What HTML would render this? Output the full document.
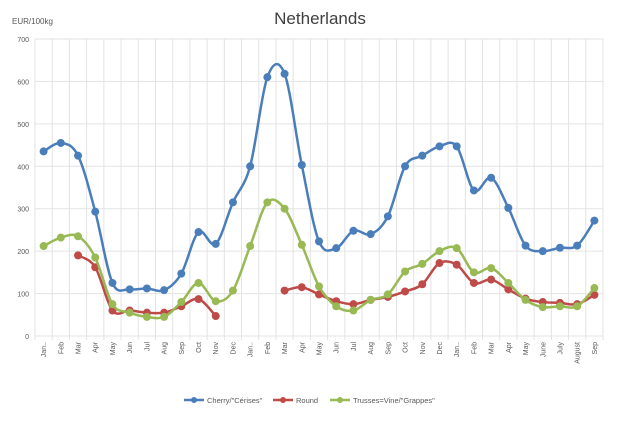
<!DOCTYPE html>
<html><head><meta charset="utf-8"><style>
body{margin:0;background:#fff;font-family:"Liberation Sans",sans-serif}
</style></head><body>
<svg id="c" width="626" height="417" xmlns="http://www.w3.org/2000/svg" style="font-family:'Liberation Sans',sans-serif">
<text x="320" y="24" font-size="17" fill="#404040" text-anchor="middle">Netherlands</text>
<text x="12" y="24" font-size="8" fill="#595959">EUR/100kg</text>
<g id="grid"></g><g id="series"></g><g id="legend"></g>
</svg>
<script>
const categories=["Jan..","Feb","Mar","Apr","May","Jun","Jul","Aug","Sep","Oct","Nov","Dec","Jan..","Feb","Mar","Apr","May","Jun","Jul","Aug","Sep","Oct","Nov","Dec","Jan..","Feb","Mar","Apr","May","June","July","August","Sep"];
const cherry=[435,455,425,293,125,110,112,108,147,245,217,315,400,610,618,403,223,207,248,240,282,400,425,447,447,343,373,302,213,200,208,213,272];
const round=[null,null,190,162,60,60,55,55,70,87,47,null,null,null,107,115,98,82,75,85,92,105,122,172,168,125,133,110,88,80,78,75,97];
const trusses=[212,232,235,185,75,55,45,45,80,125,82,107,212,315,300,215,117,70,60,85,98,152,170,200,207,150,160,125,85,68,70,70,113];
const yTicks=[0,100,200,300,400,500,600,700];
const seriesNames=['Cherry/"Cérises"',"Round",'Trusses=Vine/"Grappes"'];
const colors=["#4a7ebb","#be4b48","#98b954"];
const L=35,R=603,T=39,B=336,yMax=700;
const cw=(R-L)/categories.length;
const X=i=>L+cw*(i+0.5);
const Y=v=>B-(v/yMax)*(B-T);
const NS="http://www.w3.org/2000/svg";
function mk(t,a,p){const e=document.createElementNS(NS,t);for(const k in a)e.setAttribute(k,a[k]);p.appendChild(e);return e;}
const g=document.getElementById("grid");
yTicks.forEach(v=>{
 const l=mk("line",{x1:L,x2:R,y1:Y(v),y2:Y(v),stroke:"#e3e3e3","stroke-width":1},g);
 
 
 const t=mk("text",{x:L-6,y:Y(v)+3,"font-size":7,fill:"#595959","text-anchor":"end"},g);t.textContent=v;
 
 
});
for(let i=0;i<=categories.length;i++){
 const l=mk("line",{x1:L+cw*i,x2:L+cw*i,y1:T,y2:B+4,stroke:"#e3e3e3","stroke-width":1},g);
 
 
}
categories.forEach((c,i)=>{
 const t=mk("text",{x:0,y:0,"font-size":7,fill:"#595959","text-anchor":"end",transform:`translate(${X(i)+2.5},${B+6}) rotate(-90)`},g);
 t.textContent=c;
 
 
});
function smooth(pts){
 let d=`M${pts[0][0]},${pts[0][1]}`;
 for(let i=0;i<pts.length-1;i++){
  const p0=pts[i-1]||pts[i],p1=pts[i],p2=pts[i+1],p3=pts[i+2]||p2,k=6;
  d+=` C${p1[0]+(p2[0]-p0[0])/k},${p1[1]+(p2[1]-p0[1])/k} ${p2[0]-(p3[0]-p1[0])/k},${p2[1]-(p3[1]-p1[1])/k} ${p2[0]},${p2[1]}`;
 }
 return d;
}
const sg=document.getElementById("series");
[cherry,round,trusses].forEach((arr,si)=>{
 let segs=[],cur=[];
 arr.forEach((v,i)=>{if(v==null){if(cur.length)segs.push(cur);cur=[];}else cur.push([X(i),Y(v)]);});
 if(cur.length)segs.push(cur);
 segs.forEach(s=>{
  const p=mk("path",{d:smooth(s),fill:"none",stroke:colors[si],"stroke-width":2.5},sg);
  
  
 });
 arr.forEach((v,i)=>{if(v==null)return;
  const c=mk("circle",{cx:X(i),cy:Y(v),r:4,fill:colors[si]},sg);
  
  
 });
});
const lg=document.getElementById("legend");
const lx=[184,273,330];
seriesNames.forEach((n,i)=>{
 const l=mk("line",{x1:lx[i],x2:lx[i]+20,y1:400,y2:400,stroke:colors[i],"stroke-width":2.5},lg);
 
 
 const c=mk("circle",{cx:lx[i]+10,cy:400,r:3,fill:colors[i]},lg);
 
 
 const t=mk("text",{x:lx[i]+23,y:403,"font-size":7.5,fill:"#595959"},lg);t.textContent=n;
 
 
});
</script>
</body></html>
